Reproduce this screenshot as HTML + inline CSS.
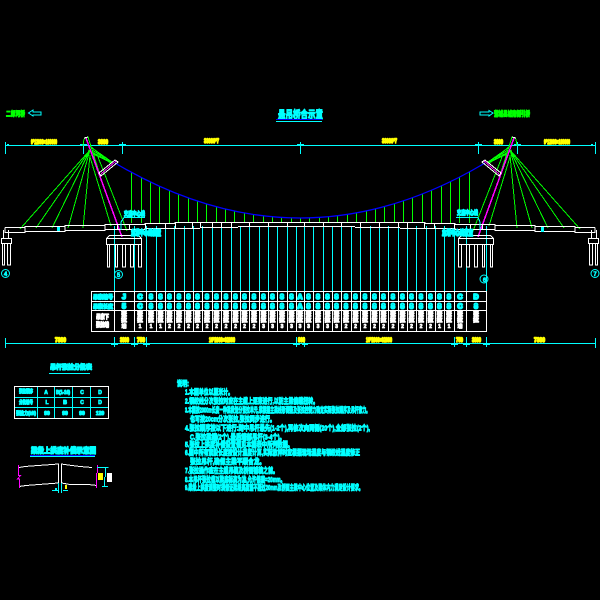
<!DOCTYPE html>
<html><head><meta charset="utf-8"><style>
html,body{margin:0;padding:0;background:#000;width:600px;height:600px;overflow:hidden}
svg{display:block}
text{font-family:"Liberation Sans","Noto Sans CJK SC",sans-serif;font-weight:bold;stroke-linejoin:round;paint-order:stroke}
.c{fill:#0ff;stroke:#0ff}.y{fill:#ff0;stroke:#ff0}.g{fill:#0f0;stroke:#0f0}.w{fill:#fff;stroke:#fff}
.l{fill:none}
</style></head><body>
<svg width="600" height="600" viewBox="0 0 600 600" xmlns="http://www.w3.org/2000/svg">
<rect width="600" height="600" fill="#000"/>
<!-- top labels -->
<text class="g" x="6" y="116" font-size="7" stroke-width="1" textLength="19" lengthAdjust="spacingAndGlyphs">二郎河桥</text>
<path fill="none" stroke="#0ff" d="M41 112H33V110L28.500 113L33 116V115H41Z"/>
<text class="g" x="494" y="116" font-size="7" stroke-width="1.100" textLength="36" lengthAdjust="spacingAndGlyphs">蒲城县城南侧引桥</text>
<path fill="none" stroke="#0ff" d="M480 112H489V110.500L493 113L489 116V115H480Z"/>
<text class="c" x="278" y="118" font-size="10.500" stroke-width="1.100" textLength="45" lengthAdjust="spacingAndGlyphs">悬吊桥合示意</text>
<path stroke="#00f" d="M276 119.500H322" fill="none"/>
<path stroke="#0ff" d="M276 121.500H322" fill="none"/>

<!-- top dim -->
<g fill="none" stroke="#0ff" shape-rendering="crispEdges">
<path d="M5 145.500H595"/>
<path d="M5.500 142V154M83.500 142V154M122.500 142V154M300.500 142V154M478.500 142V154M517.500 142V154M595.500 142V154"/>
<path d="M80 144.500H87M119 144.500H126M297 144.500H304M475 144.500H482M514 144.500H521M7 144.500H9M591 144.500H593"/>
</g>
<g font-size="6">
<text class="y" stroke-width="1.500" x="31" y="144" textLength="26" lengthAdjust="spacingAndGlyphs">9*12000=108000</text>
<text class="y" stroke-width="1.500" x="98" y="144" textLength="10" lengthAdjust="spacingAndGlyphs">3800</text>
<text class="y" stroke-width="1.500" x="204" y="143" textLength="15" lengthAdjust="spacingAndGlyphs">33000*7</text>
<text class="y" stroke-width="1.500" x="382" y="143" textLength="15" lengthAdjust="spacingAndGlyphs">33000*7</text>
<text class="y" stroke-width="1.500" x="494" y="144" textLength="9" lengthAdjust="spacingAndGlyphs">3800</text>
<text class="y" stroke-width="1.500" x="544" y="144" textLength="26" lengthAdjust="spacingAndGlyphs">9*12000=108000</text>
</g>

<!-- cyan verticals -->
<path fill="none" stroke="#0ff" shape-rendering="crispEdges" d="M114.500 226V291M134.500 226V291M146.500 226V291M156.500 226V291M165.500 226V291M174.500 226V291M184.500 226V291M193.500 226V291M202.500 226V291M212.500 226V291M221.500 226V291M231.500 226V291M240.500 226V291M249.500 226V291M259.500 226V291M268.500 226V291M277.500 226V291M287.500 226V291M296.500 226V291M304.500 226V291M313.500 226V291M323.500 226V291M332.500 226V291M341.500 226V291M351.500 226V291M360.500 226V291M370.500 226V291M379.500 226V291M388.500 226V291M398.500 226V291M407.500 226V291M416.500 226V291M426.500 226V291M435.500 226V291M444.500 226V291M454.500 226V291M466.500 226V291M486.500 226V291"/>

<!-- hangers -->
<path fill="none" stroke="#0f0" shape-rendering="crispEdges" d="M131.500 172V223M141.500 177V223M150.500 182V223M159.500 186V223M169.500 190V223M178.500 194V223M188.500 198V223M197.500 201V223M206.500 204V222M216.500 207V222M225.500 209V222M234.500 211V222M244.500 213V222M253.500 214V222M263.500 216V222M272.500 217V222M281.500 217V222M291.500 218V222M300.500 218V222M309.500 218V222M319.500 217V222M328.500 217V222M337.500 216V222M347.500 214V222M356.500 213V222M366.500 211V222M375.500 209V222M384.500 207V222M394.500 204V222M403.500 201V223M412.500 198V223M422.500 194V223M431.500 190V223M441.500 186V223M450.500 182V223M459.500 177V223M469.500 172V223"/>
<!-- main cable -->
<path fill="none" stroke="#00f" stroke-width="1.300" d="M115 163Q300 273 485 163"/>

<!-- deck mid -->
<path fill="none" stroke="#fff" shape-rendering="crispEdges" d="M192 222.500H408M200 227.500H238M238 226.500H355M355 227.500H400M200.500 222V227M212.500 222V227M221.500 222V227M231.500 222V227M249.500 222V227M268.500 222V227M287.500 222V227M304.500 222V227M323.500 222V227M341.500 222V227M360.500 222V227M379.500 222V227M398.500 222V227"/>

<!-- left half, mirrored for right -->
<g id="half" fill="none" shape-rendering="crispEdges">
<path stroke="#0f0" d="M90 150L20 229M90 150L36 228M90 150L52 228M90 150L68 228M90 155L83 228M90 157L111 226M98 157L127 231M84 139L88 137L100 175M84 139L83 146M92 148L112 162M92 150L112 163M92 152L111 163M93 154L110 162M90 146L108 161M88 150L106 160"/>
<path stroke="#f0f" stroke-width="1.500" d="M86 138L122 237"/>
<path stroke="#fff" d="M99 173L115 160L118 162L101 176Z M84 138L88 137"/>
<path stroke="#f0f" d="M101 174L116 161"/>
<path stroke="#fff" d="M5 227.500H25V226.500H65V225.500H105V224.500H145V223.500H175V222.500H200M5 227.500V232.500H25V231.500H65V230.500H105V229.500H145V228.500H200M25 226.500V231.500M65 225.500V230.500M105 224.500V229.500M117.500 224V229M129.500 224V229M145.500 223V228M165.500 223V228M175.500 223V228M192.500 222V228"/>
<path stroke="#fff" d="M3.500 230V238M8.500 230V238M1.500 238.500H11.500V243.500H1.500ZM2.500 243.500V265H4.500V243.500M7.500 243.500V265H10.500V243.500"/>
<path stroke="#fff" d="M106.500 238.500H141.500V244.500H106.500ZM106.500 238.500L109.500 235.500H138.500L141.500 238.500M107.500 244.500V267H109.500V244.500M115.500 244.500V267H117.500V244.500M122.500 244.500V267H125.500V244.500M130.500 244.500V267H133.500V244.500M138.500 244.500V267H141.500V244.500"/>
</g>
<use href="#half" transform="matrix(-1 0 0 1 600 0)"/>

<!-- anno -->
<g fill="none" stroke="#0ff" shape-rendering="crispEdges"><path d="M124 217.500H145M124 217.500L121 222V230M456 217.500H478L480 222V230"/></g>
<text class="c" x="124" y="216" font-size="6" stroke-width="1.300" textLength="21" lengthAdjust="spacingAndGlyphs">支座中心线</text>
<text class="c" x="457" y="215" font-size="6" stroke-width="1.300" textLength="21" lengthAdjust="spacingAndGlyphs">支座中心线</text>
<text class="c" x="131" y="235" font-size="7" stroke-width="1.700" textLength="30" lengthAdjust="spacingAndGlyphs">主塔中心线位置</text>
<text class="c" x="442" y="235" font-size="7" stroke-width="1.700" textLength="31" lengthAdjust="spacingAndGlyphs">主塔中心线位置</text>
<rect x="57" y="227" width="3" height="4" fill="#0ff"/><rect x="541" y="227" width="3" height="5" fill="#0ff"/>

<!-- pier circles -->
<g fill="none" stroke="#0ff"><circle cx="5.500" cy="273.500" r="4"/><circle cx="118.500" cy="274.500" r="4"/><circle cx="484" cy="279" r="4"/><circle cx="595" cy="273.500" r="4"/></g>
<g font-size="6" text-anchor="middle"><text class="c" stroke-width=".6" x="5.500" y="276">4</text><text class="c" stroke-width=".6" x="118.500" y="277">5</text><text class="c" stroke-width=".6" x="484.500" y="282">6</text><text class="c" stroke-width=".6" x="595" y="276">7</text></g>

<!-- table -->
<g fill="none" stroke="#fff" shape-rendering="crispEdges">
<path d="M91.500 291.500H486.500V331.500H91.500ZM91 301.500H487M91 310.500H487"/>
<path d="M114.500 291V331M134.500 291V331M146.500 291V331M156.500 291V331M165.500 291V331M174.500 291V331M184.500 291V331M193.500 291V331M202.500 291V331M212.500 291V331M221.500 291V331M231.500 291V331M240.500 291V331M249.500 291V331M259.500 291V331M268.500 291V331M277.500 291V331M287.500 291V331M296.500 291V331M304.500 291V331M313.500 291V331M323.500 291V331M332.500 291V331M341.500 291V331M351.500 291V331M360.500 291V331M370.500 291V331M379.500 291V331M388.500 291V331M398.500 291V331M407.500 291V331M416.500 291V331M426.500 291V331M435.500 291V331M444.500 291V331M454.500 291V331M466.500 291V331"/>
</g>
<text class="c" x="93" y="299" font-size="5.500" stroke-width="1.300" textLength="20" lengthAdjust="spacingAndGlyphs">吊索编号</text>
<text class="c" x="93" y="308.500" font-size="5.500" stroke-width="1.300" textLength="20" lengthAdjust="spacingAndGlyphs">吊索长度</text>
<text class="w" x="96" y="319" font-size="6" stroke-width="1.200" textLength="13" lengthAdjust="spacingAndGlyphs">吊索下</text>
<text class="w" x="96" y="327" font-size="6" stroke-width="1.200" textLength="13" lengthAdjust="spacingAndGlyphs">张拉端</text>
<text class="c" text-anchor="middle" font-size="7" stroke-width="1.800" y="299" x="124 140 151 160.500 169.500 179 188.500 197.500 207 216.500 226 235.500 244.500 254 263.500 272.500 282 291.500 300 308.500 318 327.500 336.500 346 355.500 365 374.500 383.500 393 402.500 411.500 421 430.500 439.500 449 460 476">JC8888888888888888A8888888888888888CD</text>
<text class="c" text-anchor="middle" font-size="7" stroke-width="1.900" y="308.500" x="124 140 151 160.500 169.500 179 188.500 197.500 207 216.500 226 235.500 244.500 254 263.500 272.500 282 291.500 300 308.500 318 327.500 336.500 346 355.500 365 374.500 383.500 393 402.500 411.500 421 430.500 439.500 449 460 476">5C8888888888888888A8888888888888888C8</text>
<text class="w" text-anchor="middle" font-size="5.500" stroke-width="1.200" y="316" x="124 140 151 160.500 169.500 179 188.500 197.500 207 216.500 226 235.500 244.500 254 263.500 272.500 282 291.500 300 308.500 318 327.500 336.500 346 355.500 365 374.500 383.500 393 402.500 411.500 421 430.500 439.500 449 460 476">张张张张张张张张张张张张张张张张张张张张张张张张张张张张张张张张张张张张张</text>
<text class="w" text-anchor="middle" font-size="5.500" stroke-width="1.200" y="322" x="124 140 151 160.500 169.500 179 188.500 197.500 207 216.500 226 235.500 244.500 254 263.500 272.500 282 291.500 300 308.500 318 327.500 336.500 346 355.500 365 374.500 383.500 393 402.500 411.500 421 430.500 439.500 449 460 476">拉拉拉拉拉拉拉拉拉拉拉拉拉拉拉拉拉拉拉拉拉拉拉拉拉拉拉拉拉拉拉拉拉拉拉拉拉</text>
<text class="w" text-anchor="middle" font-size="5" stroke-width=".8" y="328" x="124 140 151 160.500 169.500 179 188.500 197.500 207 216.500 226 235.500 244.500 254 263.500 272.500 282 291.500 300 308.500 318 327.500 336.500 346 355.500 365 374.500 383.500 393 402.500 411.500 421 430.500 439.500 449 460 476">端1112222222222333333333222222222211端</text>

<!-- bottom dim -->
<g fill="none" stroke="#0ff" shape-rendering="crispEdges">
<path d="M5 343.500H595"/>
<path d="M5.500 338V348M114.500 337V347M134.500 337V347M146.500 337V347M296.500 337V347M304.500 337V347M454.500 337V347M466.500 337V347M486.500 337V347M595.500 338V348"/>
<path d="M111 344.500H118M131 344.500H138M143 344.500H150M293 344.500H300M302 344.500H308M451 344.500H458M463 344.500H470M483 344.500H490"/>
</g>
<g font-size="6">
<text class="y" stroke-width="1.500" x="55" y="342" textLength="11" lengthAdjust="spacingAndGlyphs">7300</text>
<text class="y" stroke-width="1.500" x="120" y="342" textLength="9" lengthAdjust="spacingAndGlyphs">3800</text>
<text class="y" stroke-width="1.500" x="137" y="342" textLength="8" lengthAdjust="spacingAndGlyphs">750</text>
<text class="y" stroke-width="1.500" x="209" y="342" textLength="26" lengthAdjust="spacingAndGlyphs">16*2000=32000</text>
<text class="y" stroke-width="1.500" x="298" y="342" textLength="7" lengthAdjust="spacingAndGlyphs">800</text>
<text class="y" stroke-width="1.500" x="366" y="342" textLength="26" lengthAdjust="spacingAndGlyphs">16*2000=32000</text>
<text class="y" stroke-width="1.500" x="456" y="342" textLength="7" lengthAdjust="spacingAndGlyphs">750</text>
<text class="y" stroke-width="1.500" x="472" y="342" textLength="9" lengthAdjust="spacingAndGlyphs">3800</text>
<text class="y" stroke-width="1.500" x="534" y="342" textLength="11" lengthAdjust="spacingAndGlyphs">7300</text>
</g>

<!-- lower-left table -->
<text class="c" x="50" y="369" font-size="6.500" stroke-width="1.300" textLength="42" lengthAdjust="spacingAndGlyphs">吊杆张拉分批表</text>
<path stroke="#0ff" fill="none" d="M49 373.500H90"/>
<g fill="none" shape-rendering="crispEdges">
<path stroke="#0ff" d="M14 397.500H108M14 407.500H108M37.500 386V418M54.500 386V418M72.500 386V418M90.500 386V418"/>
<path stroke="#fff" d="M14.500 386.500H108.500V418.500H14.500Z"/>
</g>
<g font-size="5">
<text class="c" stroke-width="1.100" x="19" y="393" textLength="14" lengthAdjust="spacingAndGlyphs">张拉顺序</text>
<text class="c" stroke-width="1.100" x="19" y="404" textLength="14" lengthAdjust="spacingAndGlyphs">分批编号</text>
<text class="c" stroke-width="1.100" x="16" y="415" textLength="20" lengthAdjust="spacingAndGlyphs">张拉力(kN)</text>
<text class="c" stroke-width=".8" x="46" y="394" text-anchor="middle">A</text>
<text class="c" stroke-width=".8" x="47" y="404" text-anchor="middle">L</text>
<text class="c" stroke-width="1.100" x="47" y="415" text-anchor="middle">90</text>
<text class="c" stroke-width="1.100" x="56" y="394" textLength="14" lengthAdjust="spacingAndGlyphs">B(1-16)</text>
<text class="c" stroke-width="1.100" x="65" y="404" text-anchor="middle">B</text>
<text class="c" stroke-width="1.100" x="65" y="415" text-anchor="middle">90</text>
<text class="c" stroke-width=".8" x="82" y="394" text-anchor="middle">C</text>
<text class="c" stroke-width=".8" x="82" y="404" text-anchor="middle">C</text>
<text class="c" stroke-width="1.100" x="82" y="415" text-anchor="middle">90</text>
<text class="c" stroke-width=".8" x="100" y="394" text-anchor="middle">D</text>
<text class="c" stroke-width=".8" x="100" y="404" text-anchor="middle">D</text>
<text class="c" stroke-width="1.100" x="100" y="415" text-anchor="middle">120</text>
</g>

<!-- section -->
<text class="c" x="31" y="453" font-size="7.500" stroke-width="1.300" textLength="65" lengthAdjust="spacingAndGlyphs">梁段上拱度补偿示意图</text>
<path fill="none" stroke="#00f" d="M30 455.500H95"/><path fill="none" stroke="#0ff" d="M30 456.500H95"/>
<g fill="none" shape-rendering="crispEdges">
<path stroke="#fff" d="M19 467.500L25 466.500L38 465.500L52 464.500L58.500 464V493M19 486.500L26 485.500L39 484.500L52 483.500L58.500 483M61.500 493V464L68 465L80 466.500L92 467.500M61.500 483L70 484.500L88 484.500L97 485.500"/>
<path stroke="#f0f" d="M18.500 465V475.500H20.500L17.500 479H19.500V488M97.500 465V473M96.500 473V488"/>
<path stroke="#0ff" d="M97 467.500H108.500M105.500 467V477M104.500 477V486M102 486.500H108M52 490.500H59M58.500 483V493M63 490.500H68M61.500 483V493"/>
</g>
<rect x="98" y="473" width="5" height="7" fill="#ff0"/>
<rect x="107" y="473" width="5" height="9" fill="#fff"/>
<rect x="65" y="485" width="2" height="4" fill="#ff0"/>
<rect x="55" y="488" width="2" height="2" fill="#0ff"/>

<!-- notes -->
<g font-size="7.500">
<text class="c" stroke-width="1" x="177" y="386" textLength="12" lengthAdjust="spacingAndGlyphs">说明:</text>
<text class="c" stroke-width="1" x="185" y="394.500" textLength="48" lengthAdjust="spacingAndGlyphs">1.本图单位以厘米计。</text>
<text class="c" stroke-width="1" x="185" y="403.500" textLength="133" lengthAdjust="spacingAndGlyphs">2.钢绞线分次张拉时应在主缆上逐束进行,以防主梁偏载扭转。</text>
<text class="c" stroke-width="1" x="185" y="412.500" textLength="185" lengthAdjust="spacingAndGlyphs">3.本图按2000m长度一种梁段划分张拉单元,须根据主梁线形调整及张拉控制力确定实际张拉顺序及吊杆索力。</text>
<text class="c" stroke-width="1" x="190" y="421.500" textLength="85" lengthAdjust="spacingAndGlyphs">也可按20cm分次张拉,张拉同步进行。</text>
<text class="c" stroke-width="1" x="185" y="430.500" textLength="185" lengthAdjust="spacingAndGlyphs">4.张拉顺序按以下进行:跨中吊杆最先(1-2个),再依次向两侧(20个),全部张拉(2个),</text>
<text class="c" stroke-width="1" x="190" y="439.500" textLength="95" lengthAdjust="spacingAndGlyphs">C.张拉梁端(2个),最后端部吊杆(3-4个)。</text>
<text class="c" stroke-width="1" x="185" y="447" textLength="108" lengthAdjust="spacingAndGlyphs">5.张拉上拱度补偿设置值见本图表中所列数据。</text>
<text class="c" stroke-width="1" x="185" y="455" textLength="175" lengthAdjust="spacingAndGlyphs">6.图中所有索股长度按设计温度计算,实际放样时应根据现场温度与钢绞线温度修正</text>
<text class="c" stroke-width="1" x="190" y="464" textLength="75" lengthAdjust="spacingAndGlyphs">张拉吊杆,确保主梁平顺合龙。</text>
<text class="c" stroke-width="1" x="185" y="473" textLength="93" lengthAdjust="spacingAndGlyphs">7.张拉操作应在主缆吊装及桥面铺装之前。</text>
<text class="c" stroke-width="1" x="185" y="482" textLength="100" lengthAdjust="spacingAndGlyphs">8.本吊杆张拉值以梁底标高为准,允许偏差=20mm。</text>
<text class="c" stroke-width="1" x="185" y="490" textLength="178" lengthAdjust="spacingAndGlyphs">9.梁段上拱度调整时须保证梁段高度差不超过20mm及桥面主梁中心位置及梁体内力满足设计要求。</text>
</g>
</svg>
</body></html>
